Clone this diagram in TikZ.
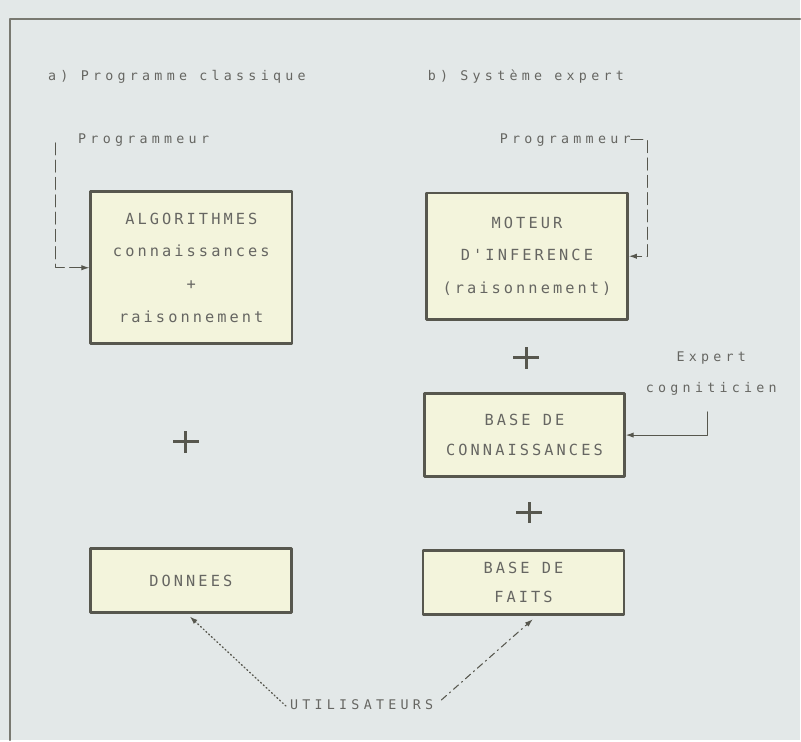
\documentclass[tikz,border=0pt]{standalone}
\usepackage{fontspec}
\usetikzlibrary{arrows.meta}

\newfontfamily\legendefont[LetterSpace=32]{DejaVu Sans Mono}
\newfontfamily\blocfont[LetterSpace=20]{DejaVu Sans Mono}

\definecolor{fond}{HTML}{E3E8E8}
\definecolor{boite}{HTML}{F3F4DC}
\definecolor{trait}{HTML}{57574E}
\definecolor{texte}{HTML}{666662}

\begin{document}
\begin{tikzpicture}[
  x=0.75pt,
  y=-0.75pt,
  line cap=round,
  line join=round,
  bloc/.style={draw=trait, line width=2pt, fill=boite, inner sep=0pt,
    text=texte, align=center,
    font=\blocfont\fontsize{11.5}{24.5}\selectfont},
  legende/.style={text=texte, inner sep=0pt,
    font=\legendefont\fontsize{10}{23.5}\selectfont},
  plus/.style={fill=trait, draw=none},
  fleche/.style={-{Latex[length=6pt,width=4pt]}, draw=trait, line width=0.8pt}
]
  % Fond et cadre
  \fill[fond] (0,0) rectangle (801,741);
  \draw[trait!80, line width=1.2pt] (10,741) -- (10,19) -- (801,19);

  % Titres
  \node[legende, anchor=west] (titreA) at (48,77) {a) Programme classique};
  \node[legende, anchor=west] (titreB) at (428,77) {b) Système expert};

  % a) Programme classique
  \node[bloc, minimum width=151pt, minimum height=114pt] (algo) at (191.5,268)
    {ALGORITHMES\\connaissances\\+\\raisonnement};
  \node[bloc, minimum width=151pt, minimum height=48pt] (donnees) at (191,581)
    {DONNEES};

  % b) Systeme expert
  \node[bloc, minimum width=151pt, minimum height=95pt] (moteur) at (527.5,256.5)
    {MOTEUR\\D'INFERENCE\\(raisonnement)};
  \node[bloc, minimum width=150pt, minimum height=62pt, font=\blocfont\fontsize{11.5}{22.5}\selectfont]
    (connais) at (525,435.5) {BASE DE\\CONNAISSANCES};
  \node[bloc, minimum width=151pt, minimum height=48pt, font=\blocfont\fontsize{11.5}{22.5}\selectfont]
    (faits) at (524,583) {BASE DE\\FAITS};

  % Signes plus
  \foreach \px/\py in {186/442, 527/358, 530/513} {
    \fill[plus] (\px-13,\py-1.5) rectangle (\px+13,\py+1.5);
    \fill[plus] (\px-1.5,\py-11) rectangle (\px+1.5,\py+11);
  }

  % Intervenants
  \node[legende, anchor=west] (progA) at (78,140) {Programmeur};
  \node[legende, anchor=west] (progB) at (500,140) {Programmeur};
  \node[legende, align=center] (expert) at (712,374) {Expert\\cogniticien};
  \node[legende] (util) at (362,705) {UTILISATEURS};

  \coordinate (coinA) at (56,143);
  \coordinate (coinB) at (648,140);

  % Liaisons
  \draw[fleche, dash pattern=on 9pt off 4pt] (coinA) |- (algo.west);
  \draw[fleche, dash pattern=on 9pt off 4pt] (progB.east) -- (coinB) |- (moteur.east);
  \draw[fleche, shorten <=12] ([xshift=-3]expert.south) |- (connais.east);
  \draw[fleche, dotted, line width=1pt, shorten <=4, shorten >=3]
    ([yshift=-4]util.west) -- ([xshift=-3]donnees.south);
  \draw[fleche, dash pattern=on 5pt off 3pt on 1pt off 3pt, shorten <=8, shorten >=4]
    ([yshift=-2]util.east) -- ([xshift=10]faits.south);
\end{tikzpicture}
\end{document}
